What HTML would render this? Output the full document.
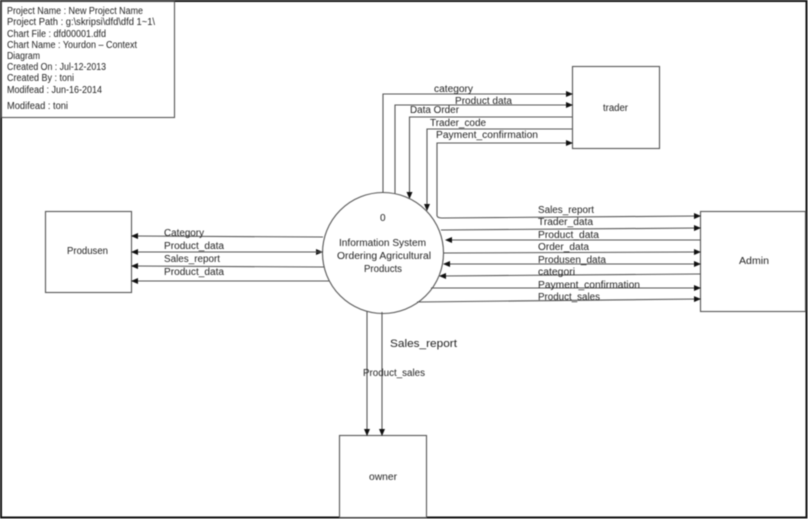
<!DOCTYPE html>
<html>
<head>
<meta charset="utf-8">
<style>
html,body{margin:0;padding:0;background:#fff;width:808px;height:519px;overflow:hidden}
svg{display:block;filter:blur(.4px)}
text{font-family:"Liberation Sans",sans-serif;font-size:10px;fill:#222}
.l{stroke:#555;stroke-width:1.1;fill:none}
.b{stroke:#555;stroke-width:1.1;fill:#fff}
</style>
</head>
<body>
<svg width="808" height="519" viewBox="0 0 808 519" xmlns="http://www.w3.org/2000/svg">
<defs>
<marker id="a" markerWidth="7" markerHeight="6" refX="6" refY="3" orient="auto" markerUnits="userSpaceOnUse"><path d="M0 0L7 3L0 6Z" fill="#111"/></marker>
</defs>
<rect x="0" y="0" width="808" height="519" fill="#fff"/>
<path d="M1 1H806.500V517.500H1Z" fill="none" stroke="#111" stroke-width="2"/>

<rect x="1.500" y="1.500" width="173" height="116" class="b"/>
<text x="7" y="14" textLength="136" lengthAdjust="spacingAndGlyphs">Project Name : New Project Name</text>
<text x="7" y="25" textLength="148" lengthAdjust="spacingAndGlyphs">Project Path : g:\skripsi\dfd\dfd 1~1\</text>
<text x="7" y="37" textLength="99" lengthAdjust="spacingAndGlyphs">Chart File : dfd00001.dfd</text>
<text x="7" y="48" textLength="130" lengthAdjust="spacingAndGlyphs">Chart Name : Yourdon – Context</text>
<text x="7" y="59" textLength="33" lengthAdjust="spacingAndGlyphs">Diagram</text>
<text x="7" y="70" textLength="99" lengthAdjust="spacingAndGlyphs">Created On : Jul-12-2013</text>
<text x="7" y="81" textLength="67" lengthAdjust="spacingAndGlyphs">Created By : toni</text>
<text x="7" y="93" textLength="95" lengthAdjust="spacingAndGlyphs">Modifead : Jun-16-2014</text>
<text x="7" y="109" textLength="61" lengthAdjust="spacingAndGlyphs">Modifead : toni</text>

<rect x="572.500" y="66.500" width="87" height="82" class="b"/>
<rect x="45.500" y="211.500" width="86" height="81" class="b"/>
<rect x="700.500" y="211.500" width="105" height="100" class="b"/>
<rect x="339.500" y="435.500" width="87" height="82" class="b"/>

<!-- trader connectors -->
<path class="l" d="M383 193V94H572" marker-end="url(#a)"/>
<path class="l" d="M395 194V105H572" marker-end="url(#a)"/>
<path class="l" d="M572 117H409.500V198" marker-end="url(#a)"/>
<path class="l" d="M572 129H427V210" marker-end="url(#a)"/>
<path class="l" d="M437 216V143H572" marker-end="url(#a)"/>

<circle cx="383" cy="253" r="60.500" class="b"/>

<!-- Admin connectors -->
<path class="l" d="M437 216Q438 218 442 218L700 216" marker-end="url(#a)"/>
<path class="l" d="M441 230L700 228" marker-end="url(#a)"/>
<path class="l" d="M700 240H446" marker-end="url(#a)"/>
<path class="l" d="M444 253L700 252" marker-end="url(#a)"/>
<path class="l" d="M444 264H700" marker-end="url(#a)"/>
<path class="l" d="M444 264H451" marker-end="url(#a)" transform="rotate(180 447.500 264)"/>
<path class="l" d="M700 274L440 276" marker-end="url(#a)"/>
<path class="l" d="M431 288L700 288" marker-end="url(#a)"/>
<path class="l" d="M417 302L700 299" marker-end="url(#a)"/>

<!-- Produsen connectors -->
<path class="l" d="M323 237L132 236" marker-end="url(#a)"/>
<path class="l" d="M132 252H322" marker-end="url(#a)"/>
<path class="l" d="M322 252H132" marker-end="url(#a)"/>
<path class="l" d="M324 267L132 266" marker-end="url(#a)"/>
<path class="l" d="M329 281H132" marker-end="url(#a)"/>

<!-- owner connectors -->
<path class="l" d="M367 311V435" marker-end="url(#a)" stroke-width="1.3"/>
<path class="l" d="M382 312V435" marker-end="url(#a)" stroke-width="1.3"/>

<!-- entity and process labels -->
<text x="603" y="111" textLength="25" lengthAdjust="spacingAndGlyphs">trader</text>
<text x="67" y="254" textLength="41" lengthAdjust="spacingAndGlyphs">Produsen</text>
<text x="739" y="264" textLength="30" lengthAdjust="spacingAndGlyphs">Admin</text>
<text x="369" y="480" textLength="28" lengthAdjust="spacingAndGlyphs">owner</text>
<text x="380" y="221">0</text>
<text x="339" y="246" textLength="87" lengthAdjust="spacingAndGlyphs">Information System</text>
<text x="337" y="259" textLength="94" lengthAdjust="spacingAndGlyphs">Ordering Agricultural</text>
<text x="364" y="272" textLength="38" lengthAdjust="spacingAndGlyphs">Products</text>

<!-- flow labels -->
<text x="434" y="92" textLength="39" lengthAdjust="spacingAndGlyphs">category</text>
<text x="455" y="104" textLength="57" lengthAdjust="spacingAndGlyphs">Product data</text>
<text x="410" y="113" textLength="49" lengthAdjust="spacingAndGlyphs">Data Order</text>
<text x="430" y="126" textLength="56" lengthAdjust="spacingAndGlyphs">Trader_code</text>
<text x="436" y="138" textLength="102" lengthAdjust="spacingAndGlyphs">Payment_confirmation</text>

<text x="538" y="213" textLength="56" lengthAdjust="spacingAndGlyphs">Sales_report</text>
<text x="538" y="225" textLength="55" lengthAdjust="spacingAndGlyphs">Trader_data</text>
<text x="538" y="238" textLength="61" lengthAdjust="spacingAndGlyphs">Product_data</text>
<text x="538" y="250" textLength="51" lengthAdjust="spacingAndGlyphs">Order_data</text>
<text x="538" y="263" textLength="68" lengthAdjust="spacingAndGlyphs">Produsen_data</text>
<text x="538" y="275" textLength="37" lengthAdjust="spacingAndGlyphs">categori</text>
<text x="538" y="288" textLength="102" lengthAdjust="spacingAndGlyphs">Payment_confirmation</text>
<text x="538" y="300" textLength="62" lengthAdjust="spacingAndGlyphs">Product_sales</text>

<text x="164" y="236" textLength="40" lengthAdjust="spacingAndGlyphs">Category</text>
<text x="164" y="249" textLength="60" lengthAdjust="spacingAndGlyphs">Product_data</text>
<text x="164" y="262" textLength="56" lengthAdjust="spacingAndGlyphs">Sales_report</text>
<text x="164" y="275" textLength="60" lengthAdjust="spacingAndGlyphs">Product_data</text>

<text x="390" y="347" textLength="67" lengthAdjust="spacingAndGlyphs" style="font-size:11px">Sales_report</text>
<text x="363" y="376" textLength="62" lengthAdjust="spacingAndGlyphs">Product_sales</text>
</svg>
</body>
</html>
